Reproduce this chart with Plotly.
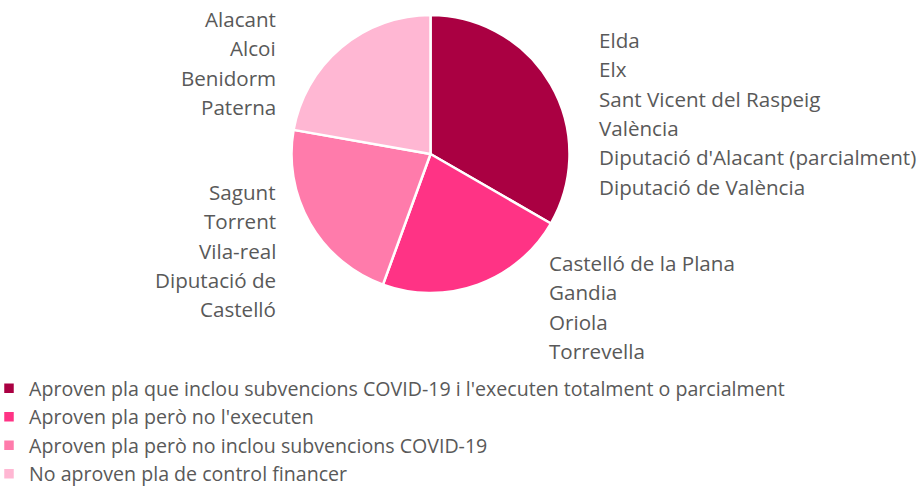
import plotly.graph_objects as go

categories = [
    "Aproven pla que inclou subvencions COVID-19 i l'executen totalment o parcialment",
    "Aproven pla però no l'executen",
    "Aproven pla però no inclou subvencions COVID-19",
    "No aproven pla de control financer",
]
values = [6, 4, 4, 4]
colors = ["#AA0042", "#FF3385", "#FF7BAB", "#FFB7D3"]

labels_cat1 = ["Elda", "Elx", "Sant Vicent del Raspeig", "València",
               "Diputació d'Alacant (parcialment)", "Diputació de València"]
labels_cat2 = ["Castelló de la Plana", "Gandia", "Oriola", "Torrevella"]
labels_cat3 = ["Sagunt", "Torrent", "Vila-real", "Diputació de", "Castelló"]
labels_cat4 = ["Alacant", "Alcoi", "Benidorm", "Paterna"]

W, H = 924, 487
FONT = "Open Sans"
GREY = "#595959"
FS = 20.6
LFS = 19.6

def px(x): return x / W
def py(y): return 1 - y / H

fig = go.Figure(go.Pie(
    labels=categories, values=values, sort=False, direction="clockwise",
    rotation=0, marker=dict(colors=colors, line=dict(color="white", width=2.5)),
    textinfo="none", hoverinfo="label+value",
    domain=dict(x=[px(291.5), px(569.5)], y=[py(293), py(15)]),
))

anns = []
def add_block(lines, x, y0, anchor):
    for i, t in enumerate(lines):
        anns.append(dict(text=t, x=px(x), y=py(y0 + 29.3 * i), xref="paper", yref="paper",
                         xanchor=anchor, yanchor="middle", showarrow=False,
                         font=dict(family=FONT, size=FS, color=GREY)))

add_block(labels_cat1, 597, 40, "left")
add_block(labels_cat2, 547, 263, "left")
add_block(labels_cat3, 278, 192, "right")
add_block(labels_cat4, 278, 19, "right")

fig.update_layout(
    width=W, height=H, margin=dict(l=0, r=0, t=0, b=0, autoexpand=False),
    paper_bgcolor="white", plot_bgcolor="white",
    annotations=anns,
    showlegend=True,
    legend=dict(x=-11 / W, y=py(369), xanchor="left", yanchor="top",
                font=dict(family=FONT, size=LFS, color=GREY), bgcolor="rgba(0,0,0,0)"),
)
fig.write_html("out.html", config={"displayModeBar": False},
               post_script="document.body.style.margin='0';")
